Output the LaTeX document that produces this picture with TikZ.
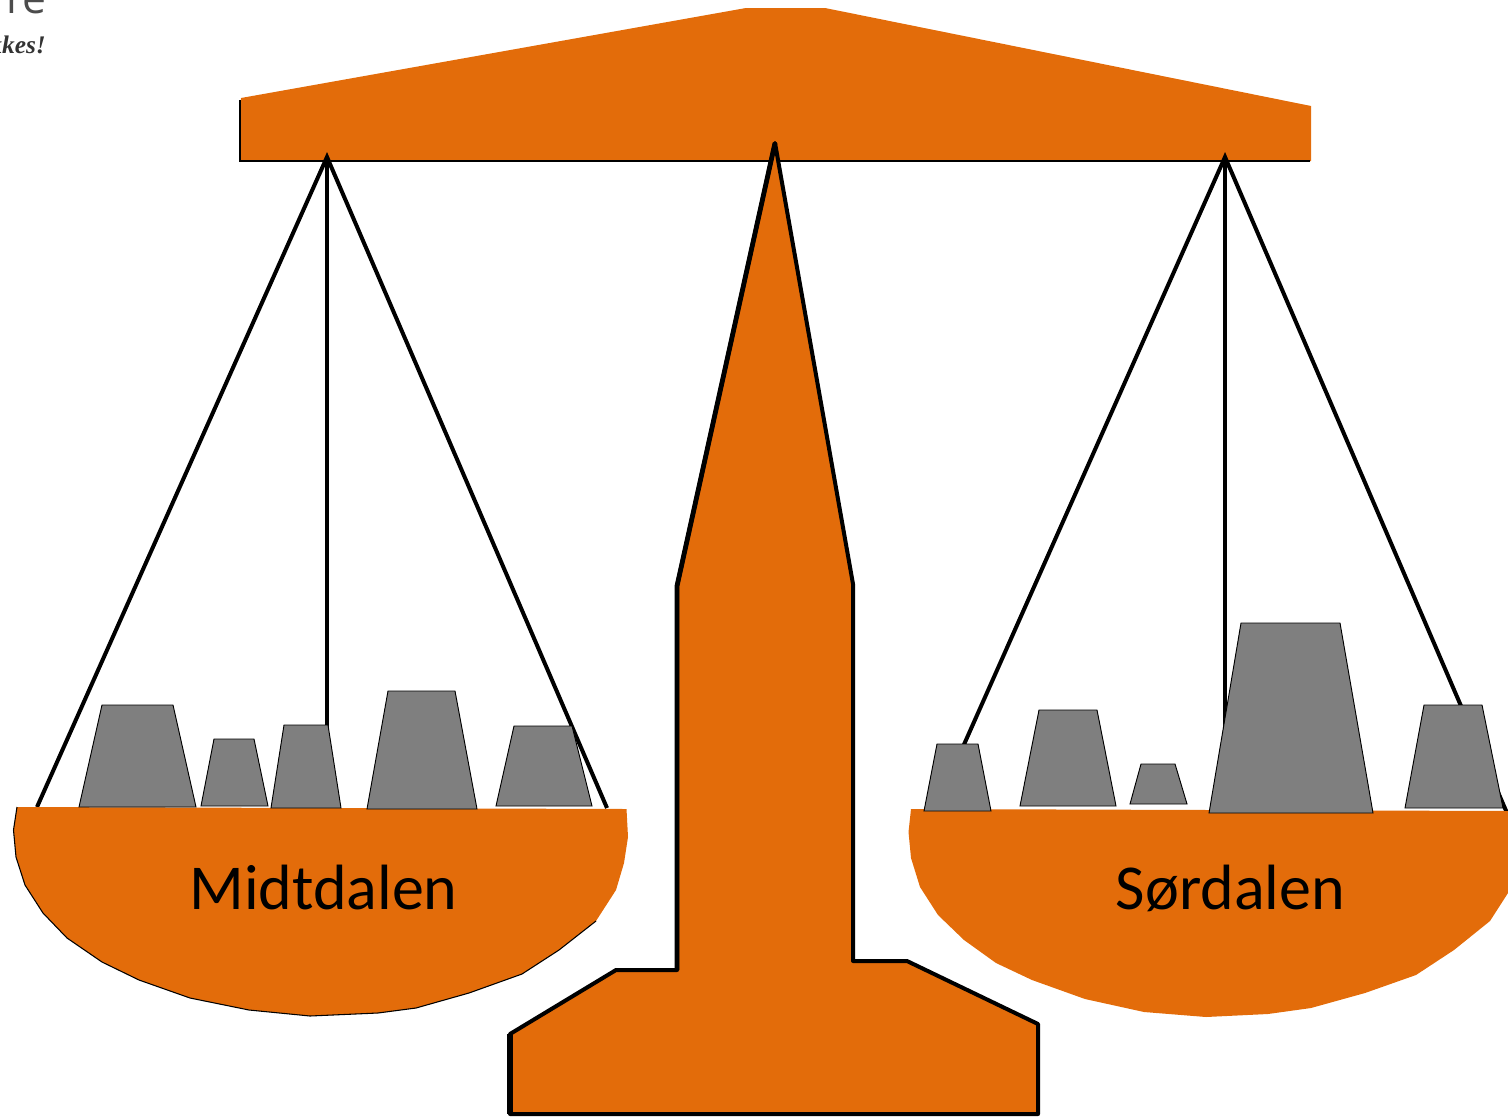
\documentclass[tikz,border=0pt]{standalone}
\usepackage{fontspec}
\setmainfont{Carlito}
\newfontfamily\headfont{Open Sans}
\newfontfamily\noteFont{Liberation Serif}
\definecolor{panorange}{HTML}{E36C0A}
\definecolor{weightgray}{HTML}{7F7F7F}
\tikzset{
	stringline/.style={black,line width=3pt},
	weight/.style={draw=black,line width=0.7pt,fill=weightgray},
	standline/.style={draw=black,line width=3pt,line join=round,fill=panorange},
	panlabel/.style={font=\fontsize{48}{52}\selectfont,text=black,inner sep=0pt,anchor=base}
}
\begin{document}
\begin{tikzpicture}[x=0.75pt,y=-0.75pt]
	\path[use as bounding box,clip] (0,0) rectangle (1508,1117);
	%rest of the page behind the picture
	\node (headrest) [anchor=base east,inner sep=0pt,text=black!70,font=\fontsize{32}{36}\selectfont] at (47,13) {\headfont re};
	\node (noterest) [anchor=base east,inner sep=0pt,text=black!80,font=\fontsize{19}{21}\selectfont] at (46,53) {\noteFont\bfseries\itshape kkes!};

	%beam
	\fill [panorange] (241,98) -- (746,8) -- (825,8) -- (1311,106) -- (1311,161) -- (240,161) -- cycle;
	\draw [black,line width=2.2pt] (240,100) -- (240,161) -- (1310,161);

	%strings
	\draw [stringline] (37,807) -- (327,157) -- (607,808);
	\draw [stringline,line width=2.6pt] (327,157) -- (327,730);
	\draw [stringline] (934,812) -- (1225,157) -- (1510,820);
	\draw [stringline,line width=2.6pt] (1225,157) -- (1225,730);

	%pans
	\fill [panorange] (17,807) -- (13.5,830) -- (16,857) -- (25,885) -- (43,913) -- (67,938) -- (102,962) -- (139,980) -- (190,998) -- (249,1010) -- (310,1016) -- (378,1013) -- (416,1008) -- (469,993) -- (522,974) -- (559,950) -- (596,921) -- (616,890) -- (624,863) -- (628,837) -- (626.5,809) -- cycle;
	\draw [black,line width=0.8pt] (17,807) -- (13.5,830) -- (16,857) -- (25,885) -- (43,913) -- (67,938) -- (102,962) -- (139,980) -- (190,998) -- (249,1010) -- (310,1016) -- (378,1013) -- (416,1008) -- (469,993) -- (522,974) -- (559,950) -- (596,921);
	\fill [panorange] (911,809) -- (908.5,832) -- (911,858) -- (920,887) -- (938,915) -- (964,940) -- (996,963) -- (1032,980) -- (1085,999) -- (1144,1012) -- (1206,1017) -- (1268,1014) -- (1311,1008) -- (1365,993) -- (1416,975) -- (1454,950) -- (1490,921) -- (1508,893) -- (1508,811) -- cycle;

	%weights left
	\draw [weight] (102,705) -- (173,705) -- (196,807) -- (79,807) -- cycle;
	\draw [weight] (214,739) -- (254,739) -- (268,806) -- (201,806) -- cycle;
	\draw [weight] (284,725) -- (328,725) -- (341,808) -- (271,808) -- cycle;
	\draw [weight] (388,691) -- (455,691) -- (477,809) -- (367,809) -- cycle;
	\draw [weight] (514,726) -- (572,726) -- (592,806) -- (496,806) -- cycle;
	%weights right
	\draw [weight] (937,744) -- (978,744) -- (991,811) -- (924,811) -- cycle;
	\draw [weight] (1039,710) -- (1097,710) -- (1116,806) -- (1020,806) -- cycle;
	\draw [weight] (1141,764) -- (1175,764) -- (1187,804) -- (1130,804) -- cycle;
	\draw [weight] (1241,623) -- (1340,623) -- (1373,813) -- (1209,813) -- cycle;
	\draw [weight] (1424,705) -- (1482,705) -- (1503,808) -- (1405,808) -- cycle;

	%stand
	\draw [standline] (775,143) -- (853,584) -- (853,961) -- (907,961) -- (1038,1024) -- (1038,1114) -- (510,1114) -- (510,1034) -- (616,970) -- (677,970) -- (677,586) -- cycle;
	%heavier left side
	\draw [black,line width=3.6pt,line join=round] (677,970) -- (677,586) -- (775,143);
	\draw [black,line width=3.8pt,line join=round] (510,1114) -- (510,1034);

	%names
	\node (midtdalen) [panlabel] at (323.5,909.5) {Midtdalen};
	\node (sordalen) [panlabel] at (1230.5,909.5) {Sørdalen};
\end{tikzpicture}
\end{document}
